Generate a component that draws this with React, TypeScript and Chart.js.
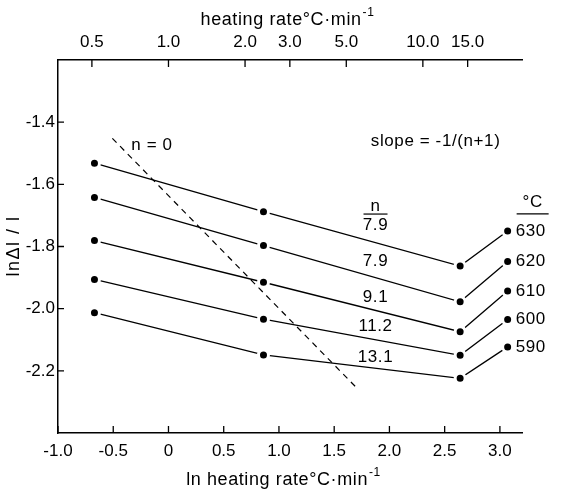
import React, { useEffect, useRef } from "react";
import { Chart, registerables } from "chart.js";
Chart.register(...registerables);

// ln(heating rate) positions of the measured points (as drawn)
const lnRate = [-0.67, 0.86, 2.64, 3.07];
const temps = ["630", "620", "610", "600", "590"];
const y630 = [-1.532, -1.688, -1.863, -1.75];
const y620 = [-1.642, -1.797, -1.978, -1.848];
const y610 = [-1.781, -1.915, -2.074, -1.943];
const y600 = [-1.906, -2.034, -2.15, -2.035];
const y590 = [-2.013, -2.149, -2.224, -2.123];
const seriesY = [y630, y620, y610, y600, y590];

const nValues = ["7.9", "7.9", "9.1", "11.2", "13.1"];
const nLabelX = 1.874;
const nLabelY = [-1.731, -1.849, -1.962, -2.058, -2.155];

const dashX = [-0.508, 1.693];
const dashY = [-1.452, -2.251];

const bottomTicks = [-1.0, -0.5, 0, 0.5, 1.0, 1.5, 2.0, 2.5, 3.0];
const bottomTickLabels = ["-1.0", "-0.5", "0", "0.5", "1.0", "1.5", "2.0", "2.5", "3.0"];
const topRates = [0.5, 1, 2, 3, 5, 10, 15];
const topTickLabels = ["0.5", "1.0", "2.0", "3.0", "5.0", "10.0", "15.0"];
const yTicks = [-1.4, -1.6, -1.8, -2.0, -2.2];
const yTickLabels = ["-1.4", "-1.6", "-1.8", "-2.0", "-2.2"];

const FONT = "Liberation Sans";

function drawSupText(ctx: CanvasRenderingContext2D, main: string, sup: string, cx: number, cy: number, size: number) {
  (ctx as any).letterSpacing = "0.6px";
  ctx.font = `${size}px "${FONT}"`;
  const w1 = ctx.measureText(main).width;
  ctx.font = `${Math.round(size * 0.65)}px "${FONT}"`;
  const w2 = ctx.measureText(sup).width;
  const x0 = cx - (w1 + w2) / 2;
  ctx.textAlign = "left";
  ctx.textBaseline = "middle";
  ctx.font = `${size}px "${FONT}"`;
  ctx.fillText(main, x0, cy);
  ctx.font = `${Math.round(size * 0.65)}px "${FONT}"`;
  ctx.fillText(sup, x0 + w1 + 1, cy - size * 0.38);
  (ctx as any).letterSpacing = "0px";
}

const decoPlugin = {
  id: "deco",
  afterDraw(chart: any) {
    const ctx = chart.ctx as CanvasRenderingContext2D;
    const xs = chart.scales.x;
    const x2 = chart.scales.x2;
    const ys = chart.scales.y;
    const area = chart.chartArea;
    ctx.save();
    ctx.strokeStyle = "#000";
    ctx.fillStyle = "#000";
    ctx.lineWidth = 1.3;
    // inward ticks
    ctx.beginPath();
    xs.ticks.forEach((t: any) => {
      const px = xs.getPixelForValue(t.value);
      ctx.moveTo(px, area.bottom);
      ctx.lineTo(px, area.bottom - 7);
    });
    x2.ticks.forEach((t: any) => {
      const px = x2.getPixelForValue(t.value);
      ctx.moveTo(px, area.top);
      ctx.lineTo(px, area.top + 7);
    });
    ys.ticks.forEach((t: any) => {
      const py = ys.getPixelForValue(t.value);
      ctx.moveTo(area.left, py);
      ctx.lineTo(area.left + 6, py);
    });
    ctx.stroke();

    // axis titles
    drawSupText(ctx, "heating rate°C·min", "-1", 287, 20, 18);
    drawSupText(ctx, "ln heating rate°C·min", "-1", 283, 480, 18);
    ctx.save();
    ctx.translate(14, 246);
    ctx.rotate(-Math.PI / 2);
    (ctx as any).letterSpacing = "1.5px";
    ctx.font = `18px "${FONT}"`;
    ctx.textAlign = "center";
    ctx.textBaseline = "middle";
    ctx.fillText("lnΔl / l", 0, 0);
    ctx.restore();

    // annotations
    (ctx as any).letterSpacing = "0.6px";
    ctx.font = `17px "${FONT}"`;
    ctx.textAlign = "center";
    ctx.textBaseline = "middle";
    ctx.fillText("n = 0", xs.getPixelForValue(-0.15), ys.getPixelForValue(-1.473));
    ctx.fillText("slope = -1/(n+1)", xs.getPixelForValue(2.418), ys.getPixelForValue(-1.463));

    const nx = xs.getPixelForValue(nLabelX);
    nValues.forEach((v, i) => {
      ctx.fillText(v, nx, ys.getPixelForValue(nLabelY[i]));
    });
    // "n" header with underline
    const ny = ys.getPixelForValue(nLabelY[0]);
    ctx.fillText("n", nx, ny - 19);
    ctx.beginPath();
    ctx.lineWidth = 1.2;
    ctx.moveTo(nx - 12, ny - 11);
    ctx.lineTo(nx + 12, ny - 11);
    ctx.stroke();

    // temperature labels next to right-hand points
    ctx.textAlign = "left";
    let firstX = 0;
    let firstY = 0;
    temps.forEach((t, i) => {
      const meta = chart.getDatasetMeta(i);
      const pt = meta.data[meta.data.length - 1];
      if (i === 0) {
        firstX = pt.x;
        firstY = pt.y;
      }
      ctx.fillText(t, pt.x + 8, pt.y);
    });
    ctx.textAlign = "center";
    ctx.fillText("°C", firstX + 25, firstY - 29);
    ctx.beginPath();
    ctx.moveTo(firstX + 9, firstY - 17);
    ctx.lineTo(firstX + 41, firstY - 17);
    ctx.stroke();
    ctx.restore();
  },
};

export default function App() {
  const ref = useRef<HTMLCanvasElement | null>(null);
  useEffect(() => {
    if (!ref.current) return;
    const datasets: any[] = seriesY.map((ys, i) => ({
      label: temps[i] + " °C",
      data: lnRate.map((x, j) => ({ x, y: ys[j] })),
      borderColor: "#000",
      borderWidth: 1.3,
      pointRadius: 5,
      pointBackgroundColor: "#000",
      pointBorderColor: "#fff",
      pointBorderWidth: 3,
      tension: 0,
      fill: false,
      order: 1,
    }));
    datasets.push({
      label: "n = 0",
      data: dashX.map((x, j) => ({ x, y: dashY[j] })),
      borderColor: "#000",
      borderWidth: 1.2,
      borderDash: [6, 5],
      pointRadius: 0,
      fill: false,
      order: 10,
    });
    const tickFont = { family: FONT, size: 17 };
    const chart = new Chart(ref.current, {
      type: "line",
      data: { datasets },
      plugins: [decoPlugin],
      options: {
        animation: false,
        responsive: true,
        maintainAspectRatio: false,
        layout: { padding: { left: 0, right: 57, top: 0, bottom: 0 } },
        plugins: { legend: { display: false }, tooltip: { enabled: false } },
        scales: {
          x: {
            type: "linear",
            position: "bottom",
            min: -1,
            max: 3.2,
            afterBuildTicks: (s: any) => {
              s.ticks = bottomTicks.map((v) => ({ value: v }));
            },
            afterFit: (s: any) => {
              s.height = 60;
            },
            grid: { display: false, drawTicks: false },
            border: { display: true, color: "#000", width: 1.5 },
            ticks: {
              autoSkip: false,
              maxRotation: 0,
              padding: 8,
              color: "#000",
              font: tickFont,
              callback: (_v: any, i: number) => bottomTickLabels[i],
            },
          },
          x2: {
            type: "linear",
            position: "top",
            min: -1,
            max: 3.2,
            afterBuildTicks: (s: any) => {
              s.ticks = topRates.map((r) => ({ value: Math.log(r) }));
            },
            afterFit: (s: any) => {
              s.height = 60;
            },
            grid: { display: false, drawTicks: false },
            border: { display: true, color: "#000", width: 1.5 },
            ticks: {
              autoSkip: false,
              maxRotation: 0,
              padding: 7,
              color: "#000",
              font: tickFont,
              callback: (_v: any, i: number) => topTickLabels[i],
            },
          },
          y: {
            type: "linear",
            min: -2.4,
            max: -1.2,
            afterBuildTicks: (s: any) => {
              s.ticks = yTicks.map((v) => ({ value: v }));
            },
            afterFit: (s: any) => {
              s.width = 58;
            },
            grid: { display: false, drawTicks: false },
            border: { display: true, color: "#000", width: 1.5 },
            ticks: {
              autoSkip: false,
              padding: 3,
              color: "#000",
              font: tickFont,
              callback: (_v: any, i: number) => yTickLabels[i],
            },
          },
        },
      } as any,
    });
    return () => chart.destroy();
  }, []);
  return (
    <div style={{ position: "fixed", left: 0, top: 0, width: 579, height: 493, background: "#fff" }}>
      <canvas ref={ref} />
    </div>
  );
}
